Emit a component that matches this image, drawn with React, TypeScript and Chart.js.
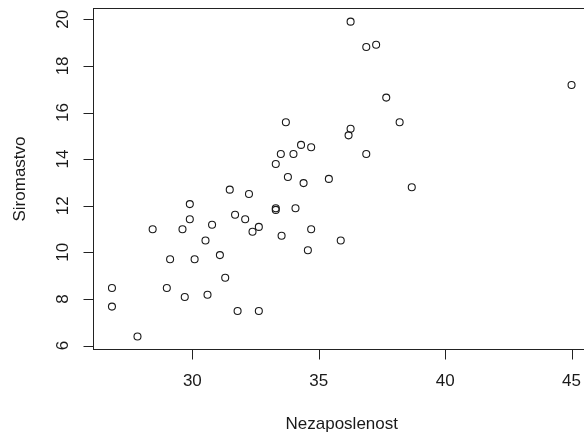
import React, { useEffect, useRef } from "react";
import { Chart, registerables } from "chart.js";

Chart.register(...registerables);

const unemployment: number[] = [
  36.26, 36.88, 37.27, 37.67, 33.7, 38.2, 36.26, 36.18, 34.3, 34.7,
  33.5, 34.0, 36.88, 33.3, 33.78, 34.4, 35.4, 45.0, 38.68, 34.08,
  33.3, 33.3, 34.7, 33.53, 35.87, 34.57, 31.48, 32.24, 29.9, 31.69,
  32.09, 29.9, 30.78, 28.43, 29.61, 32.63, 32.38, 30.52, 29.12, 30.09,
  31.09, 31.3, 26.82, 28.99, 29.7, 30.6, 26.82, 31.79, 32.63, 27.83,
];
const poverty: number[] = [
  19.9, 18.81, 18.91, 16.64, 15.58, 15.58, 15.3, 15.02, 14.61, 14.51,
  14.22, 14.22, 14.22, 13.79, 13.23, 12.97, 13.15, 17.18, 12.79, 11.89,
  11.89, 11.82, 10.99, 10.71, 10.51, 10.09, 12.69, 12.5, 12.07, 11.61,
  11.42, 11.42, 11.18, 10.99, 10.99, 11.09, 10.88, 10.51, 9.7, 9.7,
  9.88, 8.91, 8.47, 8.47, 8.08, 8.18, 7.67, 7.48, 7.48, 6.39,
];
const xTicks: number[] = [30, 35, 40, 45];
const yTicks: number[] = [6, 8, 10, 12, 14, 16, 18, 20];
const xTitle = "Nezaposlenost";
const yTitle = "Siromastvo";

const FONT = "17px 'Liberation Sans', Arial, sans-serif";
const INK = "#1a1a1a";

const rAxesPlugin = {
  id: "rAxes",
  afterDatasetsDraw(chart: any) {
    const { ctx, chartArea } = chart;
    const xs = chart.scales.x;
    const ys = chart.scales.y;
    const { left, right, top, bottom } = chartArea;
    ctx.save();
    ctx.strokeStyle = "#222";
    ctx.lineWidth = 1;
    ctx.strokeRect(left, top, right - left, bottom - top);

    ctx.font = FONT;
    ctx.fillStyle = INK;
    // x ticks
    ctx.beginPath();
    for (const v of xTicks) {
      const px = Math.round(xs.getPixelForValue(v)) + 0.5;
      ctx.moveTo(px, bottom);
      ctx.lineTo(px, bottom + 10);
    }
    // y ticks
    for (const v of yTicks) {
      const py = Math.round(ys.getPixelForValue(v)) + 0.5;
      ctx.moveTo(left, py);
      ctx.lineTo(left - 10, py);
    }
    ctx.stroke();

    ctx.textAlign = "center";
    ctx.textBaseline = "middle";
    for (const v of xTicks) {
      ctx.fillText(String(v), xs.getPixelForValue(v), bottom + 32);
    }
    for (const v of yTicks) {
      ctx.save();
      ctx.translate(left - 30, ys.getPixelForValue(v));
      ctx.rotate(-Math.PI / 2);
      ctx.fillText(String(v), 0, 0);
      ctx.restore();
    }
    // titles
    ctx.fillText(xTitle, (left + right) / 2, bottom + 75);
    ctx.save();
    ctx.translate(20, (top + bottom) / 2);
    ctx.rotate(-Math.PI / 2);
    ctx.fillText(yTitle, 0, 0);
    ctx.restore();
    ctx.restore();
  },
};

export default function App() {
  const ref = useRef<HTMLCanvasElement | null>(null);
  useEffect(() => {
    if (!ref.current) return;
    const data = unemployment.map((x, i) => ({ x, y: poverty[i] }));
    const chart = new Chart(ref.current, {
      type: "scatter",
      data: {
        datasets: [
          {
            data,
            pointStyle: "circle",
            pointRadius: 3.5,
            pointBorderWidth: 1.1,
            borderColor: "#1a1a1a",
            pointBorderColor: "#1a1a1a",
            pointBackgroundColor: "rgba(0,0,0,0)",
            backgroundColor: "rgba(0,0,0,0)",
          },
        ],
      },
      options: {
        animation: false,
        responsive: false,
        devicePixelRatio: 1,
        layout: { padding: { left: 93.5, top: 8.5, right: 10, bottom: 84.5 } },
        plugins: { legend: { display: false }, tooltip: { enabled: false } },
        scales: {
          x: { type: "linear", min: 26.09, max: 45.73, display: false },
          y: { type: "linear", min: 5.829, max: 20.464, display: false },
        },
      },
      plugins: [rAxesPlugin],
    });
    return () => chart.destroy();
  }, []);
  return (
    <div
      style={{
        position: "fixed",
        left: 0,
        top: 0,
        width: 584,
        height: 434,
        overflow: "hidden",
        background: "#fff",
      }}
    >
      <canvas ref={ref} width={600} height={434} style={{ width: 600, height: 434, display: "block" }} />
    </div>
  );
}
